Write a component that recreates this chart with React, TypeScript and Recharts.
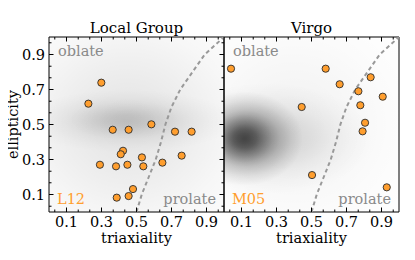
import { ScatterChart, Scatter, XAxis, YAxis, ReferenceArea, Label } from "recharts";

// tick positions: major every 0.2 starting at 0.1, minor in thirds
const tickValues = [0.033, 0.1, 0.167, 0.233, 0.3, 0.367, 0.433, 0.5, 0.567, 0.633, 0.7, 0.767, 0.833, 0.9, 0.967];
const tickLabels = [0.1, 0.3, 0.5, 0.7, 0.9];

// Local Group (L12)
const localTriaxiality = [0.225, 0.299, 0.364, 0.455, 0.585, 0.72, 0.815, 0.423, 0.41, 0.531, 0.758, 0.291, 0.383, 0.448, 0.539, 0.648, 0.48, 0.455, 0.387];
const localEllipticity = [0.619, 0.739, 0.47, 0.47, 0.501, 0.459, 0.459, 0.35, 0.33, 0.312, 0.322, 0.27, 0.261, 0.27, 0.261, 0.282, 0.131, 0.091, 0.082];

// Virgo (M05)
const virgoTriaxiality = [0.04, 0.581, 0.661, 0.838, 0.768, 0.907, 0.779, 0.444, 0.806, 0.792, 0.503, 0.93];
const virgoEllipticity = [0.819, 0.819, 0.73, 0.77, 0.69, 0.659, 0.61, 0.6, 0.51, 0.461, 0.211, 0.141];

// oblate / prolate dividing line
const boundaryTriaxiality = [0.5, 0.53, 0.57, 0.61, 0.64, 0.665, 0.7, 0.75, 0.82, 0.89, 1.0];
const boundaryEllipticity = [0, 0.1, 0.2, 0.3, 0.4, 0.5, 0.6, 0.7, 0.8, 0.9, 1.0];

// simulated density (gaussian blobs): centre, spread, weight
const localDensity = [
  { x: 0.45, y: 0.5, sx: 1.0, sy: 0.9, w: 0.1 },
  { x: 0.45, y: 0.52, sx: 0.62, sy: 0.18, w: 0.13 },
  { x: 0.43, y: 0.53, sx: 0.32, sy: 0.12, w: 0.06 },
];
const virgoDensity = [
  { x: 0.4, y: 0.5, sx: 0.9, sy: 0.85, w: 0.05 },
  { x: 0.25, y: 0.42, sx: 0.6, sy: 0.32, w: 0.15 },
  { x: 0.12, y: 0.42, sx: 0.33, sy: 0.27, w: 0.55 },
  { x: 0.11, y: 0.42, sx: 0.17, sy: 0.14, w: 0.3 },
];

const toPoints = (xs: number[], ys: number[]) => xs.map((x, i) => ({ x, y: ys[i] }));
const localPoints = toPoints(localTriaxiality, localEllipticity);
const virgoPoints = toPoints(virgoTriaxiality, virgoEllipticity);
const boundary = toPoints(boundaryTriaxiality, boundaryEllipticity);

const PANEL = 175;
const TOP = 29;
const Y_AXIS_W = 45;
const ORANGE = "#ff9e2e";
const FONT = "DejaVu Serif";
const FS = 14.5;

const YTick = ({ y, payload, left, showLabels }: any) => {
  const major = tickLabels.includes(payload.value);
  const len = major ? 4.5 : 2.5;
  return (
    <g>
      <line x1={left} x2={left + len} y1={y} y2={y} stroke="#000" />
      <line x1={left + PANEL} x2={left + PANEL - len} y1={y} y2={y} stroke="#000" />
      {showLabels && major && (
        <text x={left - 4} y={y + 5.2} textAnchor="end" fontSize={FS} fontFamily={FONT} fill="#000">
          {payload.value.toFixed(1)}
        </text>
      )}
    </g>
  );
};

const XTick = ({ x, payload }: any) => {
  const major = tickLabels.includes(payload.value);
  const len = major ? 4.5 : 2.5;
  return (
    <g>
      <line x1={x} x2={x} y1={TOP + PANEL} y2={TOP + PANEL - len} stroke="#000" />
      <line x1={x} x2={x} y1={TOP} y2={TOP + len} stroke="#000" />
      {major && (
        <text x={x} y={TOP + PANEL + 15} textAnchor="middle" fontSize={FS} fontFamily={FONT} fill="#000">
          {payload.value.toFixed(1)}
        </text>
      )}
    </g>
  );
};

const Blob = (props: any) => {
  const { cx, cy, payload } = props;
  return (
    <ellipse cx={cx} cy={cy} rx={payload.sx * PANEL} ry={payload.sy * PANEL} fill="url(#blob)" fillOpacity={payload.w} />
  );
};

const Dot = (props: any) => (
  <circle cx={props.cx} cy={props.cy} r={3.6} fill={ORANGE} stroke="#2b2b2b" strokeWidth={0.9} />
);

type PanelProps = {
  title: string;
  tag: string;
  points: { x: number; y: number }[];
  density: { x: number; y: number; sx: number; sy: number; w: number }[];
  first: boolean;
};

const Panel = ({ title, tag, points, density, first }: PanelProps) => {
  const left = first ? Y_AXIS_W : 2;
  return (
    <ScatterChart
      width={first ? Y_AXIS_W + PANEL + 2 : 185}
      height={244}
      margin={{ top: TOP, right: first ? 2 : 8, bottom: 0, left: first ? 0 : 2 }}
    >
      <defs>
        <radialGradient id="blob">
          <stop offset="0" stopColor="#000" stopOpacity={1} />
          <stop offset="0.2" stopColor="#000" stopOpacity={0.88} />
          <stop offset="0.4" stopColor="#000" stopOpacity={0.61} />
          <stop offset="0.6" stopColor="#000" stopOpacity={0.32} />
          <stop offset="0.8" stopColor="#000" stopOpacity={0.13} />
          <stop offset="1" stopColor="#000" stopOpacity={0} />
        </radialGradient>
      </defs>
      <XAxis
        type="number"
        dataKey="x"
        domain={[0, 1]}
        ticks={tickValues}
        interval={0}
        allowDataOverflow
        height={40}
        axisLine={false}
        tickLine={false}
        tick={(p: any) => <XTick {...p} />}
      >
        <Label value="triaxiality" position="insideBottom" offset={9} fontSize={FS} fontFamily={FONT} fill="#000" />
      </XAxis>
      <YAxis
        type="number"
        dataKey="y"
        domain={[0, 1]}
        ticks={tickValues}
        interval={0}
        allowDataOverflow
        width={first ? Y_AXIS_W : 0}
        axisLine={false}
        tickLine={false}
        tick={(p: any) => <YTick {...p} left={left} showLabels={first} />}
      >
        {first && (
          <Label
            value="ellipticity"
            angle={-90}
            position="insideLeft"
            offset={9}
            fontSize={FS}
            fontFamily={FONT}
            fill="#000"
            style={{ textAnchor: "middle" }}
          />
        )}
      </YAxis>
      <Scatter data={density} shape={Blob} isAnimationActive={false} />
      <Scatter
        data={boundary}
        line={{ stroke: "#999", strokeWidth: 2, strokeDasharray: "4 3" }}
        shape={() => <g />}
        isAnimationActive={false}
      />
      <Scatter data={points} shape={Dot} isAnimationActive={false} />
      <ReferenceArea x1={0} x2={1} y1={0} y2={1} fill="none" stroke="#000" strokeWidth={1} fillOpacity={0}>
        <Label value={title} position="top" offset={4} fontSize={15} fontFamily={FONT} fill="#000" />
        <Label value="oblate" position="insideTopLeft" offset={9} fontSize={FS} fontFamily={FONT} fill="#8a8a8a" />
        <Label value="prolate" position="insideBottomRight" offset={8} fontSize={FS} fontFamily={FONT} fill="#8a8a8a" />
        <Label value={tag} position="insideBottomLeft" offset={8} fontSize={FS} fontFamily={FONT} fill={ORANGE} />
      </ReferenceArea>
    </ScatterChart>
  );
};

export default function App() {
  return (
    <div style={{ position: "relative", width: 411, height: 244, marginLeft: -4, fontFamily: FONT }}>
      <div style={{ position: "absolute", left: 0, top: 0 }}>
        <Panel title="Local Group" tag="L12" points={localPoints} density={localDensity} first />
      </div>
      <div style={{ position: "absolute", left: Y_AXIS_W + PANEL - 2, top: 0 }}>
        <Panel title="Virgo" tag="M05" points={virgoPoints} density={virgoDensity} first={false} />
      </div>
    </div>
  );
}
